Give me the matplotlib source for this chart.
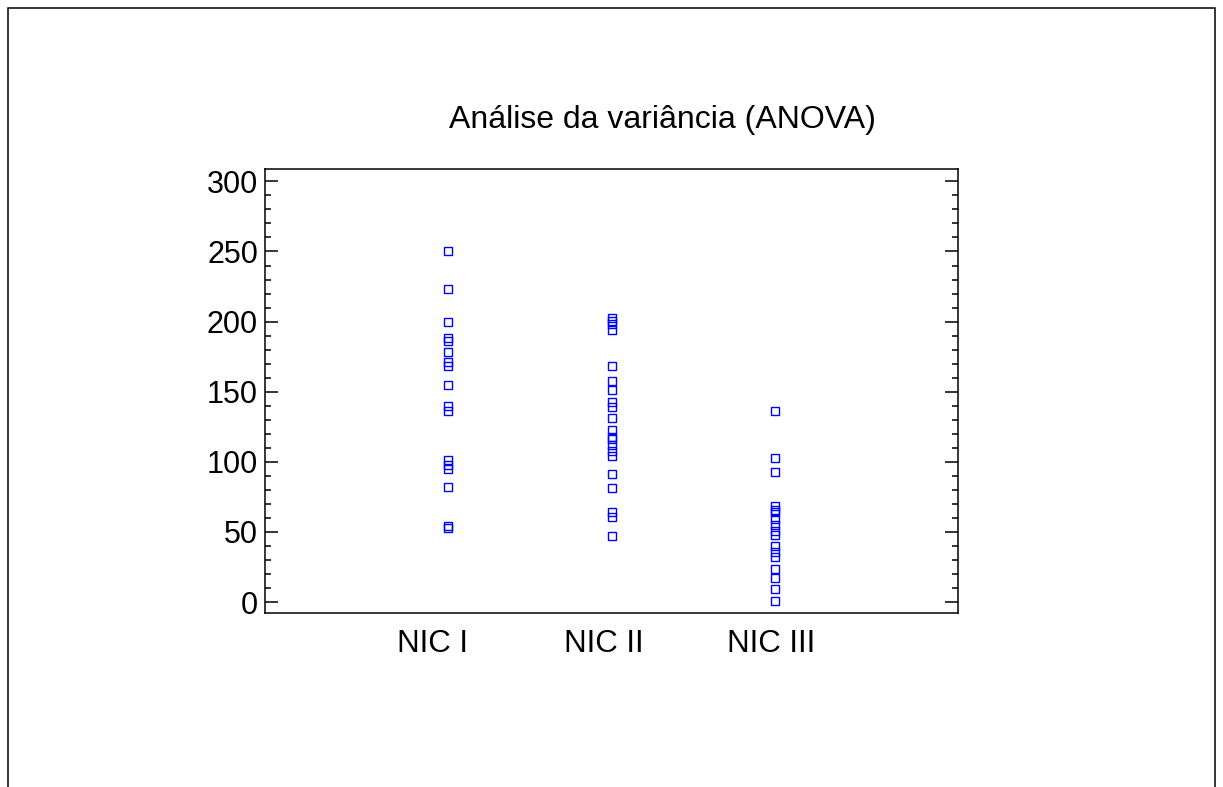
import matplotlib.pyplot as plt
from matplotlib.patches import Rectangle
from matplotlib.ticker import MultipleLocator
from matplotlib.transforms import ScaledTranslation

plt.rcParams['font.family'] = ['Liberation Sans', 'DejaVu Sans']

groups = ['NIC I', 'NIC II', 'NIC III']
nic1 = [250, 223, 200, 188, 186, 178, 171, 168, 155, 140, 136,
        101, 98, 95, 82, 54, 53]
nic2 = [202.5, 200.5, 198.5, 194, 168, 158, 151, 143, 139, 131, 123,
        118, 116, 112, 108, 104, 91, 81, 64.5, 60.5, 47]
nic3 = [136, 102.5, 92.5, 68.5, 66, 64, 59, 55, 51, 48, 40, 36, 32,
        23.5, 17, 9, 1]
values = [nic1, nic2, nic3]

fig = plt.figure(figsize=(12.23, 7.87), dpi=100)
ax = fig.add_axes([0.2167, 0.2207, 0.5666, 0.5649])

for i, vals in enumerate(values):
    ax.plot([i + 1] * len(vals), vals, linestyle='none', marker='s',
            markersize=5.2, markerfacecolor='none', markeredgecolor='#0000ff',
            markeredgewidth=1.0)

ax.set_xlim(-0.125, 4.125)
ax.set_ylim(-8, 309)
ax.set_xticks([1, 2, 3])
ax.set_xticklabels(groups)
ax.yaxis.set_major_locator(MultipleLocator(50))
ax.yaxis.set_minor_locator(MultipleLocator(10))
ax.tick_params(axis='x', length=0, pad=11, labelsize=22.5)
ax.tick_params(axis='y', which='major', direction='in', left=True, right=True,
               length=9.5, width=1.1, pad=5, labelsize=22)
ax.tick_params(axis='y', which='minor', direction='in', left=True, right=True,
               length=4.3, width=1.1)
for s in ax.spines.values():
    s.set_linewidth(1.1)

# labels sit a bit left of the point columns in the original
shifts = [-16, -8, -3]
for lab, dx in zip(ax.get_xticklabels(), shifts):
    lab.set_transform(lab.get_transform() + ScaledTranslation(dx / 100, 0, fig.dpi_scale_trans))

fig.text(662 / 1223, 1 - 120 / 787, 'Análise da variância (ANOVA)', fontsize=23,
         ha='center', va='center')

fig.add_artist(Rectangle((8 / 1223, -0.05), 1207 / 1223, 1 - 8 / 787 + 0.05,
                         transform=fig.transFigure, fill=False,
                         edgecolor='black', linewidth=1.1))

fig.savefig('out.png', dpi=100)
